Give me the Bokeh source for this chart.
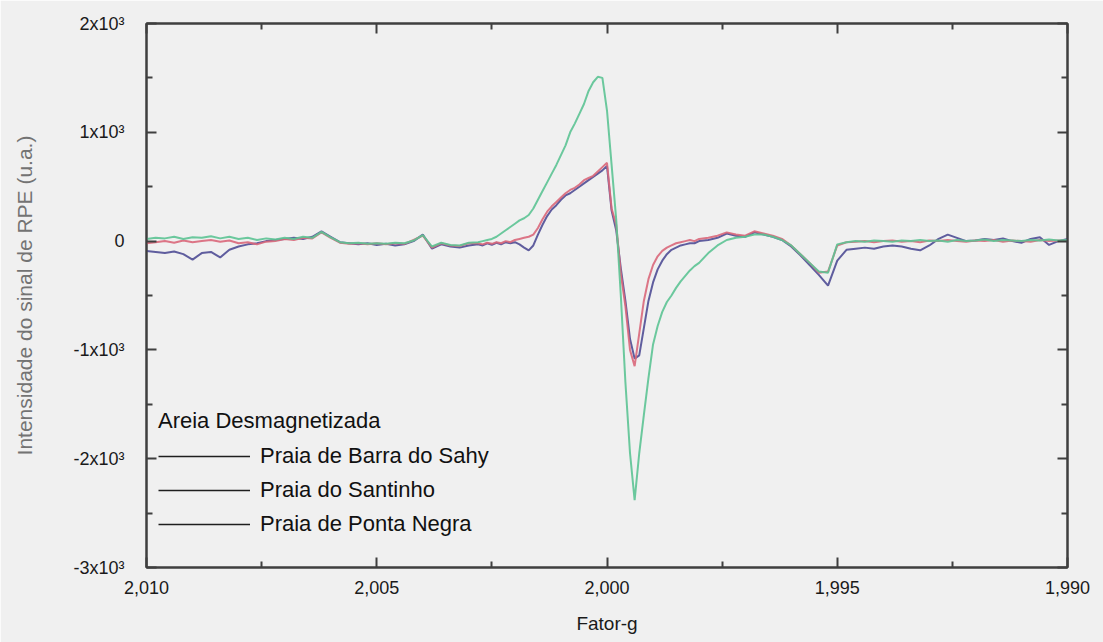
from bokeh.plotting import figure
from bokeh.models import (Range1d, LinearAxis, FixedTicker, CustomJSTickFormatter,
                          Legend, LegendItem)
from bokeh.embed import file_html
from bokeh.resources import INLINE

# g-factor sampling points shared by the three EPR spectra
g_factor = [
    2.0100, 2.0098, 2.0096, 2.0094, 2.0092, 2.0090, 2.0088, 2.0086, 2.0084, 2.0082,
    2.0080, 2.0078, 2.0076, 2.0074, 2.0072, 2.0070, 2.0068, 2.0066, 2.0064, 2.0062,
    2.0060, 2.0058, 2.0056, 2.0054, 2.0052, 2.0050, 2.0048, 2.0046, 2.0044, 2.0042,
    2.0040, 2.0038, 2.0036, 2.0034, 2.0032, 2.0030,
    2.0028, 2.0027, 2.0026, 2.0025, 2.0024, 2.0023, 2.0022, 2.0021, 2.0020, 2.0019,
    2.0018, 2.0017, 2.0016, 2.0015, 2.0014, 2.0013, 2.0012, 2.0011, 2.0010, 2.0009,
    2.0008, 2.0007, 2.0006, 2.0005, 2.0004, 2.0003, 2.0002, 2.0001, 2.0000, 1.9999,
    1.9998, 1.9997, 1.9996, 1.9995, 1.9994, 1.9993, 1.9992, 1.9991, 1.9990, 1.9989,
    1.9988, 1.9987, 1.9986, 1.9985, 1.9984, 1.9983, 1.9982, 1.9981, 1.9980,
    1.9978, 1.9976, 1.9974, 1.9972, 1.9970, 1.9968, 1.9966, 1.9964, 1.9962, 1.9960,
    1.9958, 1.9956, 1.9954, 1.9952, 1.9950, 1.9948, 1.9946, 1.9944, 1.9942, 1.9940,
    1.9938, 1.9936, 1.9934, 1.9932, 1.9930, 1.9928, 1.9926, 1.9924, 1.9922, 1.9920,
    1.9918, 1.9916, 1.9914, 1.9912, 1.9910, 1.9908, 1.9906, 1.9904, 1.9902, 1.9900,
]

# signal intensity (a.u.) of each demagnetized sand sample
barra_do_sahy = [
    -90, -100, -110, -95, -120, -170, -110, -100, -150, -80,
    -50, -30, -20, 0, 10, 20, 30, 20, 40, 90,
    40, -10, -20, -30, -20, -35, -25, -40, -30, 0,
    60, -70, -30, -50, -60, -40,
    -30, -40, -20, -35, -15, -30, -10, -20, -10, -30,
    -60, -85, -40, 60, 150, 230, 290, 330, 380, 420,
    440, 470, 500, 530, 560, 590, 620, 650, 690, 280,
    100, -250, -550, -900, -1080, -1050, -800, -550, -380, -260,
    -180, -120, -80, -60, -40, -30, -20, -20, 0,
    10, 30, 70, 50, 40, 80, 60, 40, 10, -50,
    -130, -220, -310, -410, -180, -80, -70, -60, -70, -50,
    -40, -50, -70, -85, -40, 20, 60, 30, 0, 5,
    20, 10, 25, 0, -15, 20, 35, -35, 0, 20,
]

santinho = [
    -20, -10, 0, -15, 5, -10, 0, 10, -5, 5,
    -20, -10, -30, -5, 0, 20, 10, 30, 25, 80,
    30, -15, -25, -20, -30, -20, -30, -20, -25, 10,
    50, -60, -20, -40, -45, -20,
    -20, -30, -15, -25, -10, -20, 0, -10, 10, 20,
    30, 40, 60, 120, 200, 270, 320, 360, 400, 440,
    470, 490, 520, 560, 580, 600, 640, 680, 720, 300,
    150, -300, -600, -1000, -1150, -850, -550, -350, -220, -140,
    -90, -60, -40, -20, -10, 0, 10, 0, 20,
    30, 50, 80, 60, 50, 90, 70, 50, 20, -40,
    -120, -200, -290, -280, -40, -10, -5, 0, -10, 0,
    5, -5, 0, -10, 5, 0, 10, 0, -5, 5,
    0, 10, -5, 5, 0, -5, 10, 0, 5, 0,
]

ponta_negra = [
    20, 30, 25, 40, 20, 35, 30, 45, 25, 40,
    20, 30, 10, 25, 15, 30, 20, 40, 30, 85,
    35, -10, -20, -15, -25, -20, -25, -15, -20, 5,
    55, -50, -15, -35, -40, -15,
    -10, 0, 10, 20, 40, 70, 100, 130, 160, 190,
    210, 240, 300, 380, 460, 540, 620, 700, 790, 880,
    1000, 1080, 1170, 1260, 1380, 1460, 1510, 1500, 1200, 700,
    200, -500, -1300, -1950, -2380, -1950, -1600, -1260, -950, -780,
    -650, -560, -500, -430, -370, -320, -270, -230, -200,
    -110, -40, 10, 30, 40, 60, 60, 40, 10, -40,
    -120, -200, -280, -290, -30, -10, 0, -5, 5, 0,
    -5, 5, 0, 10, 0, 5, -5, 10, 0, 5,
    15, 0, 10, 5, 0, 10, 5, 15, 5, 10,
]

legend_title = "Areia Desmagnetizada"
sample_names = ["Praia de Barra do Sahy", "Praia do Santinho", "Praia de Ponta Negra"]
sample_colors = ["#4f4d95", "#d9677a", "#5cc393"]

x_major = [2.010, 2.005, 2.000, 1.995, 1.990]
x_minor = [2.0075, 2.0025, 1.9975, 1.9925]
y_major = [-3000, -2000, -1000, 0, 1000, 2000]
y_minor = [-2500, -1500, -500, 500, 1500]

FONT = "Liberation Sans"
BG = "#f0f0f0"
FRAME = "#3f3f3f"
NAN = float("nan")

p = figure(width=1103, height=642,
           x_range=Range1d(2.010, 1.990), y_range=Range1d(-3000, 2000),
           output_backend="svg", toolbar_location=None,
           min_border_left=146, min_border_right=36,
           min_border_top=23, min_border_bottom=75,
           background_fill_color=BG, border_fill_color=BG)
p.grid.visible = False
p.outline_line_color = FRAME
p.outline_line_width = 2

for series, color in zip([barra_do_sahy, santinho, ponta_negra], sample_colors):
    p.line(g_factor, series, line_color=color, line_width=2, line_alpha=0.9)

x_ticker = FixedTicker(ticks=x_major, minor_ticks=x_minor)
y_ticker = FixedTicker(ticks=y_major, minor_ticks=y_minor)

x_fmt = CustomJSTickFormatter(code="return tick.toFixed(3).replace('.', ',');")
y_fmt = CustomJSTickFormatter(code="""
    const k = Math.round(tick / 1000);
    return k === 0 ? "0" : k + "x10\u00b3";
""")
blank_fmt = CustomJSTickFormatter(code="return '';")


def style_axis(ax):
    ax.axis_line_color = FRAME
    ax.axis_line_width = 2
    ax.major_tick_line_color = FRAME
    ax.minor_tick_line_color = FRAME
    ax.major_tick_line_width = 2
    ax.minor_tick_line_width = 2
    ax.major_tick_in = 10
    ax.major_tick_out = 0
    ax.minor_tick_in = 6
    ax.minor_tick_out = 0
    ax.major_label_text_font = FONT
    ax.major_label_text_font_size = "18px"
    ax.major_label_text_color = "#1a1a1a"
    ax.axis_label_text_font = FONT
    ax.axis_label_text_font_style = "normal"


xa = p.xaxis[0]
xa.ticker = x_ticker
xa.formatter = x_fmt
style_axis(xa)
xa.major_label_standoff = 13
xa.axis_label = "Fator-g"
xa.axis_label_text_font_size = "19px"
xa.axis_label_text_color = "#1a1a1a"
xa.axis_label_standoff = 16

ya = p.yaxis[0]
ya.ticker = y_ticker
ya.formatter = y_fmt
style_axis(ya)
ya.major_label_standoff = 22
ya.axis_label = "Intensidade do sinal de RPE (u.a.)"
ya.axis_label_text_font_size = "21px"
ya.axis_label_text_color = "#737373"
ya.axis_label_standoff = 34

top = LinearAxis(ticker=FixedTicker(ticks=x_major, minor_ticks=x_minor), formatter=blank_fmt)
style_axis(top)
top.major_label_text_font_size = "0px"
top.major_label_standoff = 0
p.add_layout(top, "above")

right = LinearAxis(ticker=FixedTicker(ticks=y_major, minor_ticks=y_minor), formatter=blank_fmt)
style_axis(right)
right.major_label_text_font_size = "0px"
right.major_label_standoff = 0
p.add_layout(right, "right")

# legend swatches are drawn in dark ink, independent of the trace colours
keys = [p.line([NAN], [NAN], line_color="#1e1e1e", line_width=1.6) for _ in sample_names]
legend = Legend(
    items=[LegendItem(label=name, renderers=[k]) for name, k in zip(sample_names, keys)],
    title=legend_title, location=(12, 30),
    background_fill_alpha=0, border_line_color=None,
    padding=0, margin=0, spacing=8,
    label_height=24, glyph_height=24, glyph_width=92, label_standoff=10,
    label_text_font=FONT, label_text_font_size="22px", label_text_color="#111111",
    title_text_font=FONT, title_text_font_size="22px", title_text_font_style="normal",
    title_text_color="#111111", title_standoff=9,
)
p.add_layout(legend)

open("out.html", "w").write(file_html(p, INLINE))
